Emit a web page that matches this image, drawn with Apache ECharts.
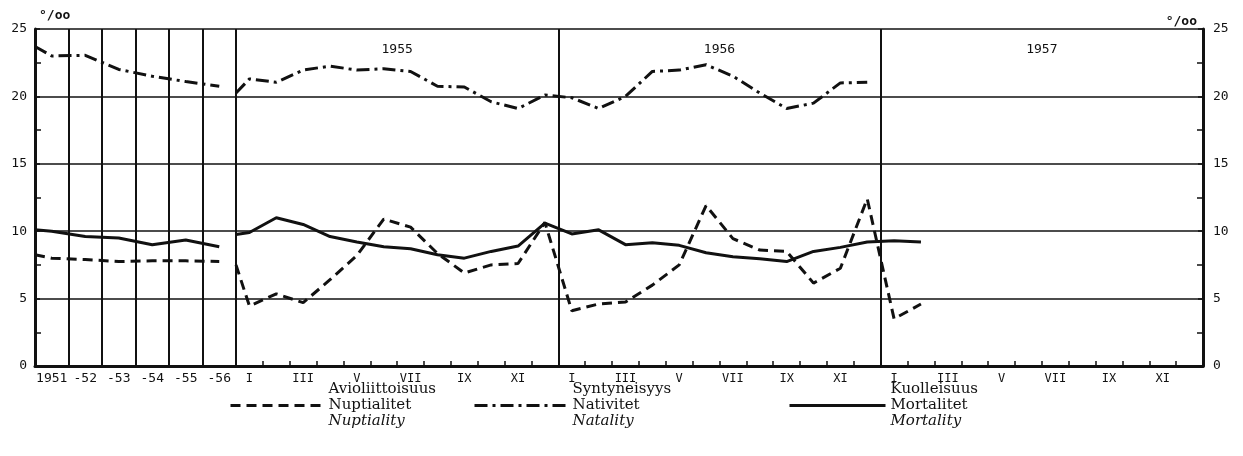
<!DOCTYPE html>
<html>
<head>
<meta charset="utf-8">
<script src="https://cdn.jsdelivr.net/npm/echarts@6/dist/echarts.min.js"></script>
<style>
  html, body { margin: 0; background: #fff; }
  #chart { width: 1243px; height: 456px; }
</style>
</head>
<body>
<div id="chart"></div>
<script>
var yearLabels = ['1951', '-52', '-53', '-54', '-55', '-56'];
var monthLabels = ['I', 'II', 'III', 'IV', 'V', 'VI', 'VII', 'VIII', 'IX', 'X', 'XI', 'XII'];
var periodLabels = ['1955', '1956', '1957'];

// first value of every list is where the line starts on the section's left edge
var nupYearly = [8.25, 8.0, 7.9, 7.75, 7.8, 7.8, 7.75];
var natYearly = [23.7, 23.0, 23.05, 22.0, 21.5, 21.1, 20.75];
var morYearly = [10.1, 10.0, 9.6, 9.5, 9.0, 9.35, 8.85];

var nupMonthly = [7.5, 4.45, 5.35, 4.7, 6.4, 8.2, 10.9, 10.3, 8.35, 6.9, 7.5, 7.6, 10.65,
  4.1, 4.6, 4.75, 6.0, 7.5, 11.9, 9.45, 8.6, 8.5, 6.15, 7.25, 12.4, 3.5, 4.6];
var natMonthly = [20.25, 21.3, 21.05, 21.95, 22.25, 21.95, 22.05, 21.85, 20.75, 20.7, 19.6, 19.1, 20.1,
  19.9, 19.1, 20.0, 21.85, 21.95, 22.35, 21.5, 20.25, 19.1, 19.5, 21.0, 21.05];
var morMonthly = [9.75, 9.9, 11.0, 10.5, 9.6, 9.2, 8.85, 8.7, 8.25, 8.0, 8.5, 8.9, 10.6,
  9.8, 10.1, 9.0, 9.15, 8.95, 8.4, 8.1, 7.95, 7.75, 8.5, 8.8, 9.2, 9.3, 9.2];

var seriesNames = ['Nuptiality', 'Natality', 'Mortality'];
var legendFi = ['Avioliittoisuus', 'Syntyneisyys', 'Kuolleisuus'];
var legendSv = ['Nuptialitet', 'Nativitet', 'Mortalitet'];

;(function () {
  var ink = '#111';
  var mono = 'DejaVu Sans Mono';
  var serif = 'DejaVu Serif';

  var monthCats = [];
  periodLabels.forEach(function (p) {
    monthLabels.forEach(function (m) { monthCats.push(p + ' ' + m); });
  });

  function toPoints(list) {
    return list.map(function (v, i) { return [i === 0 ? 0 : i - 0.5, v]; });
  }

  var dashTypes = [[10, 6], [13, 5, 3, 5], 'solid'];

  var yBase = {
    type: 'value', min: 0, max: 25, interval: 5,
    axisLine: { show: true, onZero: false, lineStyle: { color: ink, width: 3 } },
    axisTick: { show: true, inside: true, length: 5, lineStyle: { color: ink, width: 1.5 } },
    minorTick: { show: true, splitNumber: 2, length: 6, lineStyle: { color: ink, width: 1.5 } },
    splitLine: { show: true, lineStyle: { color: ink, width: 1.5 } },
    axisLabel: { color: ink, fontFamily: mono, fontSize: 13 },
    name: '°/oo',
    nameLocation: 'end',
    nameTextStyle: { color: ink, fontFamily: mono, fontSize: 13, fontWeight: 'bold' }
  };

  function makeSeries(idx, xAxisIndex, yAxisIndex, list) {
    return {
      name: seriesNames[idx],
      type: 'line',
      xAxisIndex: xAxisIndex,
      yAxisIndex: yAxisIndex,
      symbol: 'none',
      silent: true,
      lineStyle: { color: ink, width: 3, type: dashTypes[idx] },
      itemStyle: { color: ink },
      data: toPoints(list)
    };
  }

  // legend blocks under the plot
  var legendLeft = [224, 468, 783];
  var legendIconW = [93, 93, 96];
  var legends = seriesNames.map(function (n, i) {
    return {
      orient: 'horizontal',
      data: [n],
      left: legendLeft[i],
      top: 377,
      itemWidth: legendIconW[i],
      itemHeight: 14,
      itemGap: 0,
      selectedMode: false,
      itemStyle: { opacity: 0 },
      lineStyle: { width: 3, color: ink, type: dashTypes[i] },
      formatter: function () {
        return '{a|' + legendFi[i] + '}\n{a|' + legendSv[i] + '}\n{i|' + n + '}';
      },
      textStyle: {
        rich: {
          a: { fontFamily: serif, fontSize: 15, lineHeight: 16, color: ink },
          i: { fontFamily: serif, fontSize: 15, lineHeight: 16, color: ink, fontStyle: 'italic' }
        }
      }
    };
  });

  var myChart = echarts.init(document.getElementById('chart'));

  var option = {
    backgroundColor: '#fff',
    animation: false,
    legend: legends,
    grid: [
      { left: 35, right: 1007, top: 29, bottom: 90 },
      { left: 236, right: 40, top: 29, bottom: 90 }
    ],
    xAxis: [
      {
        gridIndex: 0, type: 'category', position: 'bottom', data: yearLabels, boundaryGap: true,
        axisLine: { onZero: false, lineStyle: { color: ink, width: 3 } },
        axisTick: { show: false },
        splitLine: { show: true, interval: 0, lineStyle: { color: ink, width: 2 } },
        axisLabel: { color: ink, fontFamily: mono, fontSize: 13, margin: 6, interval: 0 }
      },
      { gridIndex: 0, type: 'value', position: 'top', min: 0, max: yearLabels.length, show: false },
      {
        gridIndex: 1, type: 'category', position: 'bottom', data: monthCats, boundaryGap: true,
        axisLine: { onZero: false, lineStyle: { color: ink, width: 3 } },
        axisTick: { show: true, inside: true, length: 5, interval: 0, lineStyle: { color: ink, width: 1.5 } },
        splitLine: {
          show: true,
          interval: function (index) { return index % 12 === 0; },
          lineStyle: { color: ink, width: 2 }
        },
        axisLabel: {
          color: ink, fontFamily: mono, fontSize: 12, margin: 7, interval: 1,
          formatter: function (v) { return v.split(' ')[1]; }
        }
      },
      {
        gridIndex: 1, type: 'category', position: 'top', data: periodLabels, boundaryGap: true,
        axisLine: { show: false, onZero: false }, axisTick: { show: false }, splitLine: { show: false },
        axisLabel: { inside: true, margin: 14, color: ink, fontFamily: mono, fontSize: 13 }
      },
      { gridIndex: 1, type: 'value', min: 0, max: monthCats.length, show: false }
    ],
    yAxis: [
      Object.assign({}, yBase, {
        gridIndex: 0, position: 'left',
        axisLabel: Object.assign({}, yBase.axisLabel, { margin: 8 }),
        nameGap: 7,
        nameTextStyle: Object.assign({}, yBase.nameTextStyle, { align: 'left', padding: [0, 0, 0, 4] })
      }),
      Object.assign({}, yBase, {
        gridIndex: 1, position: 'right',
        axisLabel: Object.assign({}, yBase.axisLabel, { margin: 10 }),
        nameGap: 1,
        nameTextStyle: Object.assign({}, yBase.nameTextStyle, { align: 'right', padding: [0, 6, 0, 0] })
      })
    ],
    series: [
      makeSeries(0, 1, 0, nupYearly),
      makeSeries(1, 1, 0, natYearly),
      makeSeries(2, 1, 0, morYearly),
      makeSeries(0, 4, 1, nupMonthly),
      makeSeries(1, 4, 1, natMonthly),
      makeSeries(2, 4, 1, morMonthly)
    ]
  };

  myChart.setOption(option);
})();
</script>
</body>
</html>
